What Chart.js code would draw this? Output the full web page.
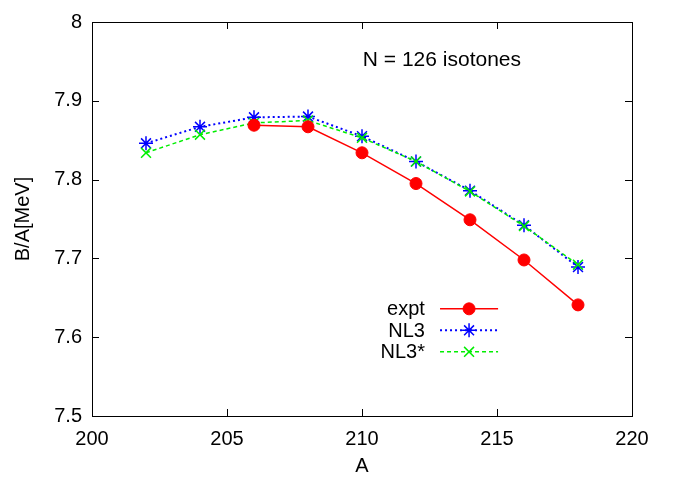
<!DOCTYPE html>
<html><head><meta charset="utf-8">
<script src="https://cdn.jsdelivr.net/npm/chart.js@4/dist/chart.umd.min.js"></script>
<style>html,body{margin:0;padding:0;background:#fff}#wrap{width:678px;height:478px}</style>
</head><body><div id="wrap"><canvas id="c" width="678" height="478"></canvas></div>
<script>
const massNumbers = [202, 204, 206, 208, 210, 212, 214, 216, 218];
const exptValues = [null, null, 7.869, 7.867, 7.834, 7.795, 7.749, 7.698, 7.641];
const nl3Values = [7.846, 7.867, 7.879, 7.880, 7.855, 7.823, 7.786, 7.742, 7.689];
const nl3StarValues = [7.834, 7.857, 7.872, 7.875, 7.853, 7.823, 7.785, 7.741, 7.692];
const xTicks = [200, 205, 210, 215, 220];
const yTicks = [7.5, 7.6, 7.7, 7.8, 7.9, 8.0];
const annotationText = 'N = 126 isotones';

const FONT = '"Liberation Sans", Arial, sans-serif';
const toPts = vals => massNumbers.map((a, i) => ({x: a, y: vals[i]})).filter(p => p.y !== null);

const frame = {
  id: 'frame',
  afterDraw(chart) {
    const {ctx, chartArea: a, scales: {x, y}} = chart;
    ctx.save();
    ctx.strokeStyle = '#000'; ctx.lineWidth = 1;
    ctx.strokeRect(a.left + 0.5, a.top + 0.5, a.right - a.left, a.bottom - a.top);
    ctx.beginPath();
    xTicks.forEach(v => { const px = Math.round(x.getPixelForValue(v)) + 0.5;
      ctx.moveTo(px, a.bottom); ctx.lineTo(px, a.bottom - 7);
      ctx.moveTo(px, a.top); ctx.lineTo(px, a.top + 7); });
    yTicks.forEach(v => { const py = Math.round(y.getPixelForValue(v)) + 0.5;
      ctx.moveTo(a.left, py); ctx.lineTo(a.left + 7, py);
      ctx.moveTo(a.right, py); ctx.lineTo(a.right - 7, py); });
    ctx.stroke();
    ctx.fillStyle = '#000';
    ctx.font = '21px ' + FONT;
    ctx.textAlign = 'center'; ctx.textBaseline = 'middle';
    ctx.fillText(annotationText, x.getPixelForValue(212.96), y.getPixelForValue(7.951));
    // legend
    ctx.font = '20px ' + FONT;
    const rows = chart.data.datasets;
    const textRight = x.getPixelForValue(212.33);
    const lx0 = x.getPixelForValue(212.89), lx1 = x.getPixelForValue(215.04);
    rows.forEach((ds, i) => {
      const ry = y.getPixelForValue(7.636) + i * 21.5;
      ctx.textAlign = 'right';
      ctx.fillStyle = '#000';
      ctx.fillText(ds.label, textRight, ry + 1);
      ctx.strokeStyle = ds.borderColor; ctx.lineWidth = ds.borderWidth;
      ctx.setLineDash(ds.borderDash || []);
      ctx.beginPath(); ctx.moveTo(lx0, ry); ctx.lineTo(lx1, ry); ctx.stroke();
      ctx.setLineDash([]);
      ctx.lineWidth = ds.pointBorderWidth || 1;
      ctx.strokeStyle = ds.pointBorderColor;
      ctx.fillStyle = ds.pointBackgroundColor || ds.pointBorderColor;
      Chart.helpers.drawPoint(ctx, {pointStyle: ds.pointStyle, radius: ds.pointRadius, borderWidth: ds.pointBorderWidth || 1}, (lx0 + lx1) / 2, ry);
    });
    ctx.restore();
  }
};

new Chart(document.getElementById('c'), {
  type: 'line',
  data: {
    datasets: [
      {label: 'expt', data: toPts(exptValues), borderColor: '#ff0000', backgroundColor: '#ff0000',
       pointBackgroundColor: '#ff0000', pointBorderColor: '#ff0000', pointStyle: 'circle', pointRadius: 6,
       pointBorderWidth: 1, borderWidth: 1.5, order: 1},
      {label: 'NL3', data: toPts(nl3Values), borderColor: '#0000ff', pointBorderColor: '#0000ff',
       pointStyle: 'star', pointRadius: 7, pointBorderWidth: 1.5, borderWidth: 2, borderDash: [2, 3], order: 3},
      {label: 'NL3*', data: toPts(nl3StarValues), borderColor: '#00ee00', pointBorderColor: '#00ee00',
       pointStyle: 'crossRot', pointRadius: 7, pointBorderWidth: 1.5, borderWidth: 1.5, borderDash: [4, 3], order: 2}
    ]
  },
  options: {
    responsive: false, animation: false,
    layout: {padding: {left: 0, right: 46, top: 19, bottom: 0}},
    plugins: {legend: {display: false}, tooltip: {enabled: false}},
    elements: {line: {tension: 0, fill: false}},
    scales: {
      x: {type: 'linear', min: 200, max: 220,
          afterBuildTicks: s => { s.ticks = xTicks.map(v => ({value: v})); },
          afterFit: s => { s.height = 62; },
          grid: {display: false, drawTicks: false}, border: {display: false},
          ticks: {color: '#000', font: {family: FONT, size: 20}, padding: 11.5, maxRotation: 0},
          title: {display: true, text: 'A', color: '#000', font: {family: FONT, size: 20, lineHeight: 1}, padding: {top: 0, bottom: 2}}},
      y: {type: 'linear', min: 7.5, max: 8.0,
          afterBuildTicks: s => { s.ticks = yTicks.map(v => ({value: v})); },
          afterFit: s => { s.width = 92; },
          grid: {display: false, drawTicks: false}, border: {display: false},
          ticks: {color: '#000', font: {family: FONT, size: 20}, padding: 10,
                  callback: v => (v === 8 ? '8' : v.toFixed(1))},
          title: {display: true, text: 'B/A[MeV]', color: '#000', font: {family: FONT, size: 20, lineHeight: 1}, padding: {top: 13.5, bottom: 0}}}
    }
  },
  plugins: [frame]
});
</script></body></html>
